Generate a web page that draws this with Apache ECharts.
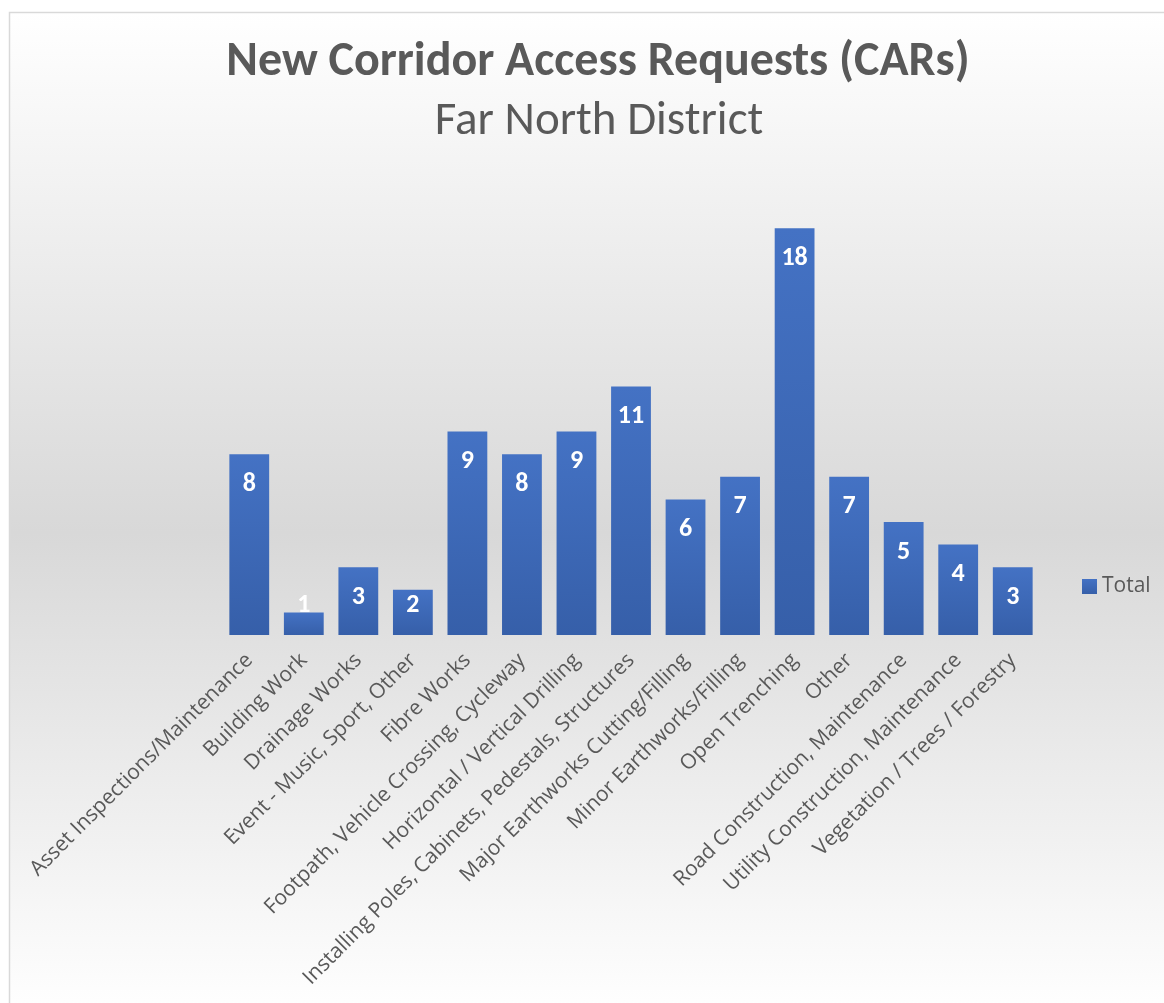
<!DOCTYPE html>
<html>
<head>
<meta charset="utf-8">
<script src="https://cdn.jsdelivr.net/npm/echarts@6/dist/echarts.min.js"></script>
<style>
html,body{margin:0;padding:0;background:#fff;}
#chart{width:1164px;height:1003px;}
</style>
</head>
<body>
<div id="chart"></div>
<script>
const categories = [
  "Asset Inspections/Maintenance",
  "Building Work",
  "Drainage Works",
  "Event - Music, Sport, Other",
  "Fibre Works",
  "Footpath, Vehicle Crossing, Cycleway",
  "Horizontal / Vertical Drilling",
  "Installing Poles, Cabinets, Pedestals, Structures",
  "Major Earthworks Cutting/Filling",
  "Minor Earthworks/Filling",
  "Open Trenching",
  "Other",
  "Road Construction, Maintenance",
  "Utility Construction, Maintenance",
  "Vegetation / Trees / Forestry"
];
const totals = [8, 1, 3, 2, 9, 8, 9, 11, 6, 7, 18, 7, 5, 4, 3];
const seriesName = "Total";
const titleText = "New Corridor Access Requests (CARs)";
const subtitleText = "Far North District";

const chart = echarts.init(document.getElementById('chart'));
const barColor = new echarts.graphic.LinearGradient(0, 0, 0, 1, [
  {offset: 0, color: '#4472c4'},
  {offset: 1, color: '#365fa9'}
]);
const dataItems = totals.map(v => {
  if (v < 3) {
    return {value: v, label: {position: 'insideBottom', distance: 17}};
  }
  return {value: v};
});

chart.setOption({
  animation: false,
  graphic: [{
    type: 'rect',
    z: -10,
    silent: true,
    shape: {x: 9.5, y: 12.5, width: 1170, height: 1000},
    style: {
      fill: new echarts.graphic.LinearGradient(0, 0, 0, 1, [
        {offset: 0, color: '#ffffff'},
        {offset: 0.52, color: '#d8d8d8'},
        {offset: 1, color: '#ffffff'}
      ]),
      stroke: '#d9d9d9',
      lineWidth: 1.5
    }
  }],
  title: [{
    text: titleText,
    left: 593,
    textAlign: 'center',
    top: 34,
    textStyle: {fontFamily: 'Carlito, Calibri, Lato', fontWeight: 'bold', fontSize: 48, color: '#595959'}
  }, {
    text: subtitleText,
    left: 594,
    textAlign: 'center',
    top: 94,
    textStyle: {fontFamily: 'Carlito, Calibri, Lato', fontWeight: 'normal', fontSize: 47, color: '#595959'}
  }],
  legend: {
    data: [seriesName],
    left: 1077,
    top: 571,
    itemWidth: 15,
    itemHeight: 15,
    itemGap: 5,
    icon: 'rect',
    textStyle: {fontFamily: 'Open Sans', fontSize: 21, color: '#595959'}
  },
  grid: {left: 222, right: 124, top: 183, bottom: 368},
  xAxis: {
    type: 'category',
    data: categories,
    axisLine: {show: false},
    axisTick: {show: false},
    axisLabel: {
      rotate: 45,
      interval: 0,
      margin: 22,
      fontFamily: 'Open Sans',
      fontSize: 21,
      color: '#595959'
    }
  },
  yAxis: {
    type: 'value',
    min: 0,
    max: 20,
    interval: 2,
    show: false,
    splitLine: {show: false}
  },
  series: [{
    name: seriesName,
    type: 'bar',
    data: dataItems,
    barCategoryGap: '27%',
    itemStyle: {color: barColor},
    label: {
      show: true,
      position: 'insideTop',
      distance: 17,
      fontFamily: 'Carlito, Calibri, Lato',
      fontWeight: 'bold',
      fontSize: 26,
      color: '#ffffff'
    }
  }]
});
</script>
</body>
</html>
